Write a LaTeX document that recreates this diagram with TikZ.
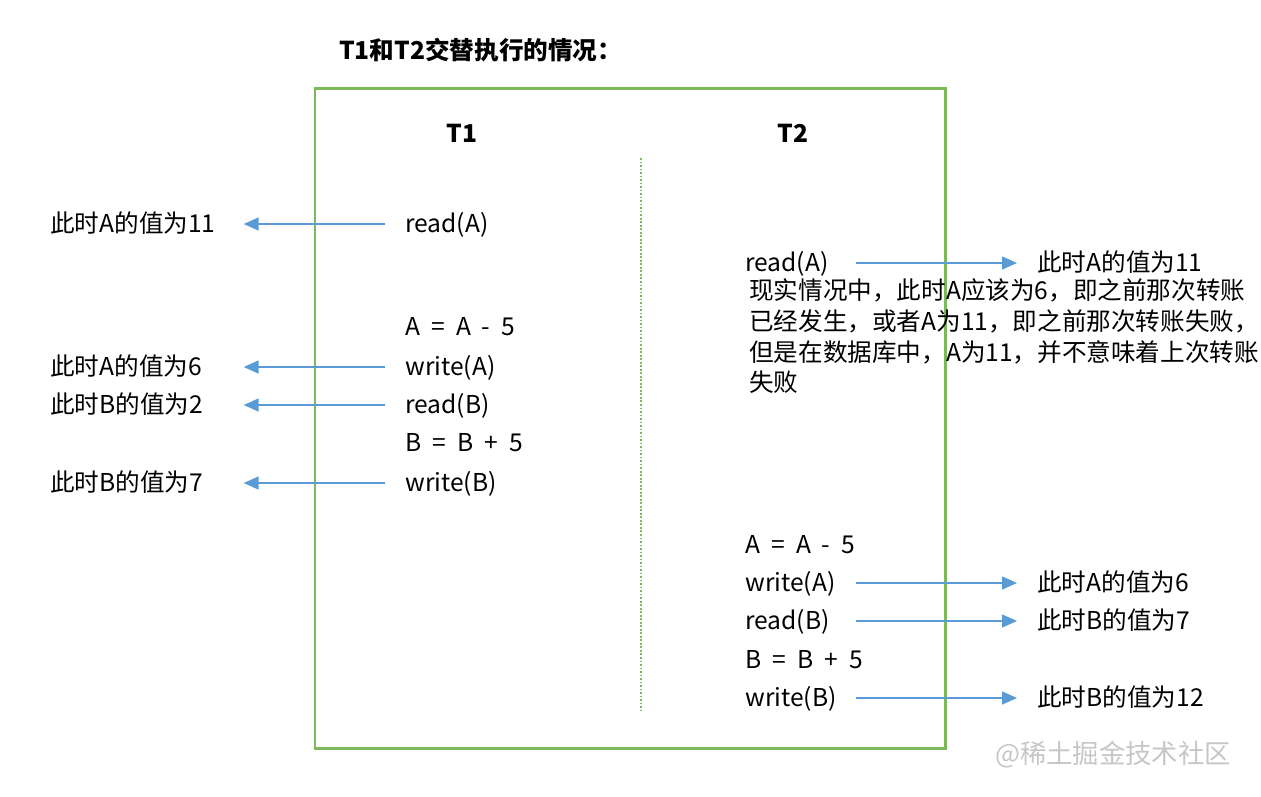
\documentclass[tikz,border=0pt]{standalone}
\usepackage{fontspec}
\setmainfont{Noto Sans CJK SC}
\usetikzlibrary{arrows.meta}
\definecolor{boxgreen}{RGB}{125,185,90}
\definecolor{flowblue}{RGB}{91,155,213}

\begin{document}
\begin{tikzpicture}[x=0.02cm, y=-0.02cm,
    every node/.style={font=\fontsize{14}{17.6}\selectfont},
    op/.style={anchor=west, inner sep=0pt, text width=1.8cm,
    text height=12pt, text depth=2pt},
    assign/.style={anchor=west, inner sep=0pt,
    text height=12pt, text depth=2pt},
    val/.style={anchor=west, inner sep=0pt, text width=3.46cm,
    text height=12pt, text depth=2pt},
    head/.style={font=\fontsize{14}{17.6}\selectfont\bfseries},
    note/.style={anchor=north west, align=left, inner sep=0pt},
    flow/.style={draw=flowblue, line width=0.8pt,
    -{Triangle[length=3mm,width=2.6mm]},
    shorten <=0.4cm, shorten >=0.4cm},
    ]

    \useasboundingbox (0,0) rectangle (1261,796);

    \node[anchor=west, head] (title) at (333,50) {T1和T2交替执行的情况：};
    \draw[boxgreen, line width=1.7pt] (315,88) rectangle (945,748);
    \draw[boxgreen, line width=0.7pt, dash pattern=on 1pt off 1pt] (641,158) -- (641,712);

    \node[head] (h1) at (462,133) {T1};
    \node[head] (h2) at (793,133) {T2};

    % T1
    \node[op] (a1) at (405,224) {read(A)};
    \node[assign] (a2) at (405,327) {A \ = \ A \ - \ 5};
    \node[op] (a3) at (405,367) {write(A)};
    \node[op] (a4) at (405,405) {read(B)};
    \node[assign] (a5) at (405,443) {B \ = \ B \ + \ 5};
    \node[op] (a6) at (405,483) {write(B)};

    \node[val] (l1) at (50,224) {此时A的值为11};
    \node[val] (l3) at (50,367) {此时A的值为6};
    \node[val] (l4) at (50,405) {此时B的值为2};
    \node[val] (l6) at (50,483) {此时B的值为7};

    \draw[flow] (a1) -- (l1);
    \draw[flow] (a3) -- (l3);
    \draw[flow] (a4) -- (l4);
    \draw[flow] (a6) -- (l6);

    % T2
    \node[op] (b1) at (745,263) {read(A)};
    \node[assign] (b2) at (745,545) {A \ = \ A \ - \ 5};
    \node[op] (b3) at (745,583) {write(A)};
    \node[op] (b4) at (745,621) {read(B)};
    \node[assign] (b5) at (745,660) {B \ = \ B \ + \ 5};
    \node[op] (b6) at (745,698) {write(B)};

    \node[val] (r1) at (1037,263) {此时A的值为11};
    \node[val] (r3) at (1037,583) {此时A的值为6};
    \node[val] (r4) at (1037,621) {此时B的值为7};
    \node[val] (r6) at (1037,698) {此时B的值为12};

    \draw[flow] (b1) -- (r1);
    \draw[flow] (b3) -- (r3);
    \draw[flow] (b4) -- (r4);
    \draw[flow] (b6) -- (r6);

    \node[note] (nt) at (749,278) {现实情况中，此时A应该为6，即之前那次转账\\
    已经发生，或者A为11，即之前那次转账失败，\\
    但是在数据库中，A为11，并不意味着上次转账\\
    失败};

    \node[text=gray!45, font=\fontsize{15}{18}\selectfont] (wm) at (1113,755) {@稀土掘金技术社区};
\end{tikzpicture}
\end{document}
